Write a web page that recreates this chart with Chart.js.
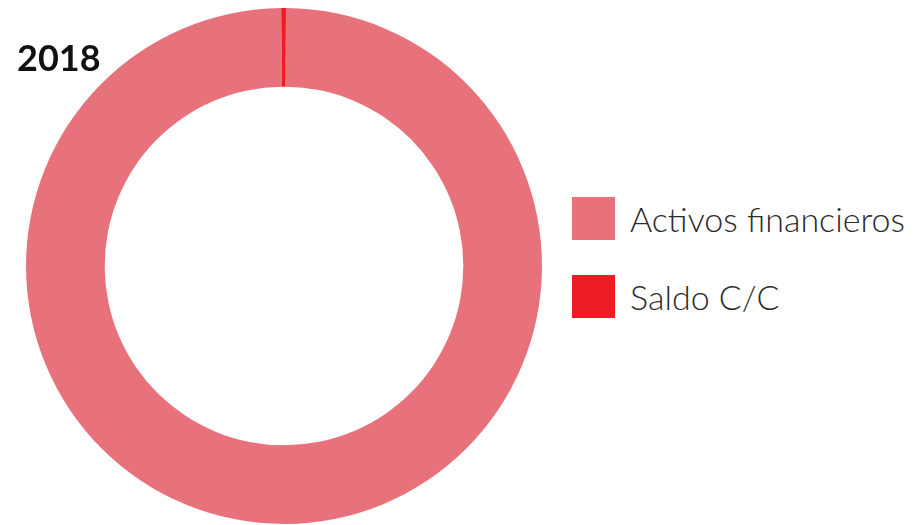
<!DOCTYPE html>
<html>
<head>
<meta charset="utf-8">
<script src="https://cdn.jsdelivr.net/npm/chart.js@4"></script>
<style>
  html, body { margin: 0; padding: 0; background: #fff; }
  #wrap { position: relative; width: 914px; height: 525px; overflow: hidden; }
  #box { position: absolute; left: 0; top: 0; width: 570px; height: 525px; }
  #title { position: absolute; left: 17px; top: 35px; font: bold 36px Lato, "Open Sans", sans-serif; color: #111; }
  .item { position: absolute; left: 572px; height: 43px; display: flex; align-items: center; }
  .sw { width: 43px; height: 43px; margin-right: 15px; }
  .lbl { font: 300 34px Lato, "Open Sans", sans-serif; color: #2b2b2b; white-space: nowrap; }
</style>
</head>
<body>
<div id="wrap">
  <div id="box"><canvas id="donut"></canvas></div>
  <div id="title"></div>
  <div id="legend"></div>
</div>
<script>
var year = '2018';
var labels = ['Activos financieros', 'Saldo C/C'];
var values = [99.7, 0.3];
var colors = ['#E8727B', '#ED1C24'];

document.getElementById('title').textContent = year;

// leyenda a mano para poder colocarla donde está en el original
var legend = document.getElementById('legend');
for (var i = 0; i < labels.length; i++) {
    var item = document.createElement('div');
    item.className = 'item';
    item.style.top = (197 + i * 78) + 'px';
    item.innerHTML = '<div class="sw" style="background:' + colors[i] + '"></div><span class="lbl"></span>';
    item.querySelector('.lbl').textContent = labels[i];
    legend.appendChild(item);
}

var ctx = document.getElementById('donut');
new Chart(ctx, {
    type: 'doughnut',
    data: {
        labels: labels,
        datasets: [
            {
                data: values,
                backgroundColor: colors,
                borderWidth: 0
            }
        ]
    },
    options: {
        responsive: true,
        maintainAspectRatio: false,
        animation: false,
        cutout: '69.5%',
        rotation: 0.45,
        layout: { padding: { top: 8, bottom: 1, right: 2 } },
        plugins: {
            legend: { display: false },
            tooltip: { enabled: false }
        }
    }
});
</script>
</body>
</html>
